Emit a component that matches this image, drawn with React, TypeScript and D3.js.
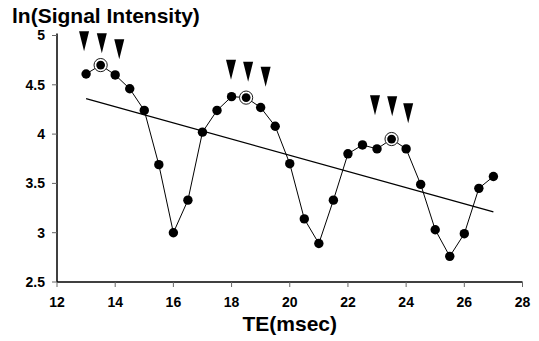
import React from "react";
import { scaleLinear, line } from "d3";

// echo times (msec) and ln(signal intensity)
const te = [
  13, 13.5, 14, 14.5, 15, 15.5, 16, 16.5, 17, 17.5, 18, 18.5, 19, 19.5, 20,
  20.5, 21, 21.5, 22, 22.5, 23, 23.5, 24, 24.5, 25, 25.5, 26, 26.5, 27,
];
const lnSignal = [
  4.61, 4.7, 4.6, 4.46, 4.24, 3.69, 3.0, 3.33, 4.02, 4.24, 4.38, 4.37, 4.27,
  4.08, 3.7, 3.14, 2.89, 3.33, 3.8, 3.89, 3.85, 3.95, 3.85, 3.49, 3.03, 2.76,
  2.99, 3.45, 3.57,
];
// points drawn with an extra ring
const circledTE = [13.5, 18.5, 23.5];

// fitted straight line, end points
const fitTE = [13, 27];
const fitValue = [4.36, 3.21];

// arrowheads: x position and tip height (data units)
const arrowTE = [12.93, 13.54, 14.14, 17.98, 18.57, 19.17, 22.93, 23.52, 24.07];
const arrowTip = [4.84, 4.82, 4.76, 4.55, 4.53, 4.48, 4.19, 4.18, 4.11];

const xTicks = [12, 14, 16, 18, 20, 22, 24, 26, 28];
const yTicks = [2.5, 3, 3.5, 4, 4.5, 5];

const W = 539;
const H = 341;
const font = "'Liberation Sans', Arial, Helvetica, sans-serif";

export default function App() {
  const x = scaleLinear().domain([12, 28]).range([57, 522.5]);
  const y = scaleLinear().domain([2.5, 5]).range([282, 35.5]);

  const pts = te.map((t, i) => ({ t, v: lnSignal[i] }));
  const path = line<{ t: number; v: number }>()
    .x((d) => x(d.t))
    .y((d) => y(d.v))(pts);

  const fitPath = line<number>()
    .x((d) => x(d))
    .y((_, i) => y(fitValue[i]))(fitTE);

  return (
    <div style={{ position: "absolute", left: 0, top: 0 }}>
      <svg width={W} height={H} style={{ display: "block", background: "#fff" }}>
        {/* Title */}
        <text x={12} y={23} fontFamily={font} fontSize={21} fontWeight="bold">
          ln(Signal Intensity)
        </text>

        {/* Y axis */}
        <line x1={x(12)} x2={x(12)} y1={y(5) - 2} y2={y(2.5)} stroke="#000" strokeWidth={1.5} />
        {yTicks.map((v) => (
          <g key={v} transform={`translate(0,${y(v)})`}>
            <line x1={x(12) - 5} x2={x(12)} stroke="#666" strokeWidth={1} />
            <text
              x={45}
              dy="0.35em"
              textAnchor="end"
              fontFamily={font}
              fontSize={14}
              fontWeight="bold"
            >
              {v}
            </text>
          </g>
        ))}

        {/* X axis */}
        <line x1={x(12)} x2={x(28)} y1={y(2.5)} y2={y(2.5)} stroke="#000" strokeWidth={1.5} />
        {xTicks.map((t) => (
          <g key={t} transform={`translate(${x(t)},0)`}>
            <line y1={y(2.5)} y2={y(2.5) + 5} stroke="#666" strokeWidth={1} />
            <text
              y={307}
              textAnchor="middle"
              fontFamily={font}
              fontSize={14}
              fontWeight="bold"
            >
              {t}
            </text>
          </g>
        ))}
        <text
          x={x(20)}
          y={331}
          textAnchor="middle"
          fontFamily={font}
          fontSize={21}
          fontWeight="bold"
        >
          TE(msec)
        </text>

        {/* Fit line */}
        <path d={fitPath ?? ""} fill="none" stroke="#000" strokeWidth={1.3} />

        {/* Data line and points */}
        <path d={path ?? ""} fill="none" stroke="#000" strokeWidth={1} />
        {pts.map((d) =>
          circledTE.includes(d.t) ? (
            <g key={d.t}>
              <circle cx={x(d.t)} cy={y(d.v)} r={6.6} fill="#fff" stroke="#000" strokeWidth={0.9} />
              <circle cx={x(d.t)} cy={y(d.v)} r={4.4} fill="#000" />
            </g>
          ) : (
            <circle key={d.t} cx={x(d.t)} cy={y(d.v)} r={4.7} fill="#000" />
          )
        )}

        {/* Arrowheads */}
        {arrowTE.map((t, i) => {
          const cx = x(t);
          const tip = y(arrowTip[i]);
          return (
            <path
              key={i}
              d={`M${cx - 5},${tip - 20}L${cx + 5},${tip - 20}L${cx},${tip}Z`}
              fill="#000"
            />
          );
        })}
      </svg>
    </div>
  );
}
